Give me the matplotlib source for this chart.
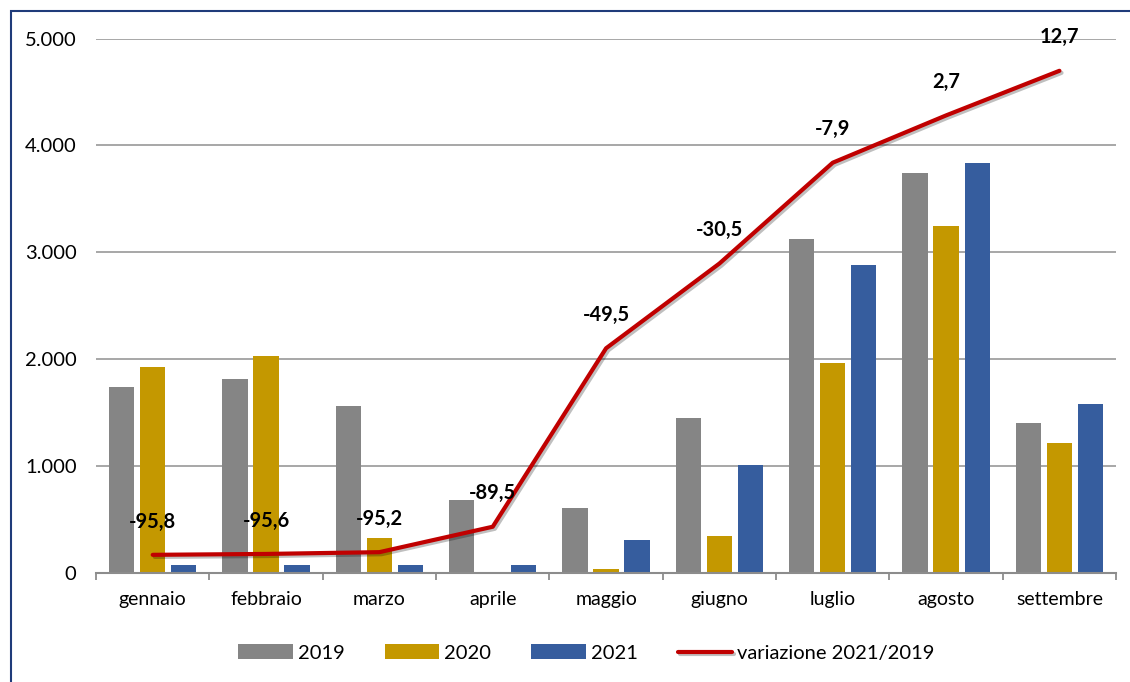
import matplotlib
matplotlib.use("Agg")
import matplotlib.pyplot as plt
import matplotlib.patheffects as pe
from matplotlib.patches import Rectangle
import numpy as np

plt.rcParams['font.family'] = ['Lato', 'DejaVu Sans']

months = ["gennaio", "febbraio", "marzo", "aprile", "maggio",
          "giugno", "luglio", "agosto", "settembre"]
y2019 = [1740, 1810, 1560, 680, 610, 1450, 3120, 3745, 1405]
y2020 = [1930, 2030, 320, 0, 35, 345, 1960, 3250, 1210]
y2021 = [70, 70, 70, 70, 310, 1010, 2880, 3840, 1580]
variazione = [-95.8, -95.6, -95.2, -89.5, -49.5, -30.5, -7.9, 2.7, 12.7]

col_2019 = "#858585"
col_2020 = "#C49800"
col_2021 = "#365D9E"
col_line = "#C00000"

fig = plt.figure(figsize=(11.3, 6.82), dpi=100)
ax = fig.add_axes([0.085, 0.1603, 0.9027, 0.783])

x = np.arange(len(months))
w = 0.223
step = 0.274
b1 = ax.bar(x - step, y2019, w, color=col_2019, zorder=3, label="2019")
b2 = ax.bar(x, y2020, w, color=col_2020, zorder=3, label="2020")
b3 = ax.bar(x + step, y2021, w, color=col_2021, zorder=3, label="2021")

ax.set_xlim(-0.5, len(months) - 0.5)
ax.set_ylim(0, 5000)
ax.set_yticks(range(0, 5001, 1000))
ax.set_yticklabels([f"{v:,}".replace(",", ".") for v in range(0, 5001, 1000)])
ax.yaxis.grid(True, color="#A0A0A0", linewidth=1.3, zorder=0)
ax.set_axisbelow(True)

ax.set_xticks(x)
ax.set_xticklabels(months)
ax.set_xticks(np.arange(-0.5, len(months), 1), minor=True)
ax.tick_params(axis="x", which="major", length=0, pad=13, labelsize=14)
ax.tick_params(axis="x", which="minor", length=5, width=1.3, color="#8C8C8C")
ax.tick_params(axis="y", length=0, pad=14, labelsize=14.5)

for s in ["top", "right", "left"]:
    ax.spines[s].set_visible(False)
ax.spines["bottom"].set_color("#8C8C8C")
ax.spines["bottom"].set_linewidth(1.5)
ax.spines["bottom"].set_zorder(4)

# variation on a hidden secondary scale
ax2 = ax.twinx()
ax2.set_ylim(-99.8, 19.9)
ax2.axis("off")
line, = ax2.plot(x, variazione, color=col_line, linewidth=3, zorder=5,
                 solid_capstyle="round", label="variazione 2021/2019",
                 path_effects=[pe.SimpleLineShadow(offset=(1.5, -1.5), alpha=0.25),
                               pe.Normal()])
for xi, v in zip(x, variazione):
    ax2.annotate(f"{v:.1f}".replace(".", ","), (xi, v), xytext=(0, 24),
                 textcoords="offset points", ha="center", va="center",
                 fontsize=14.5, fontweight="bold", color="black",
                 annotation_clip=False, zorder=6)

fig.legend(handles=[b1, b2, b3, line], loc="center",
           bbox_to_anchor=(0.519, 0.0425), ncol=4, frameon=False,
           fontsize=14.5, handlelength=2.7, handleheight=0.7,
           handletextpad=0.25, columnspacing=2.0)

# outer frame
fig.patches.append(Rectangle((0.0096, -0.05), 1.2, 0.9843 + 0.05,
                             transform=fig.transFigure, fill=False,
                             edgecolor="#1F3B7A", linewidth=1.5))

fig.savefig("out.png", dpi=100)
